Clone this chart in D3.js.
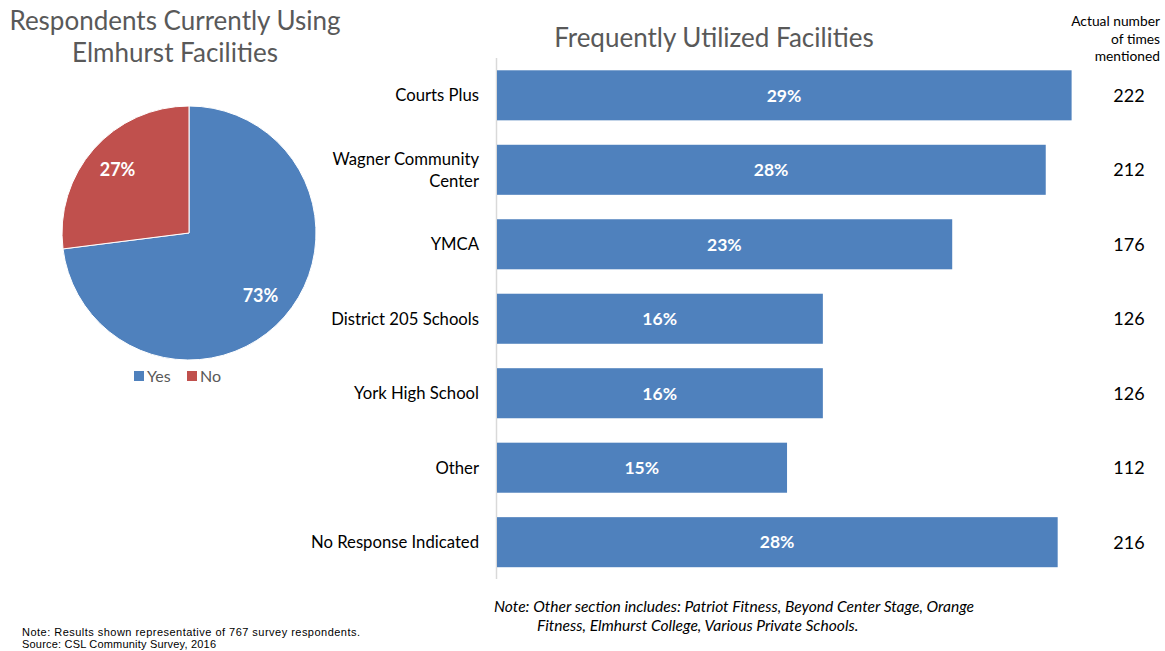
<!DOCTYPE html>
<html><head><meta charset="utf-8">
<script src="https://cdn.jsdelivr.net/npm/d3@7/dist/d3.min.js"></script>
<style>
html,body{margin:0;padding:0;background:#fff;}
svg{display:block;font-family:Lato,"Open Sans",sans-serif;}
</style></head>
<body><svg id="c" width="1165" height="651"></svg>
<script>
// Pie data
const pieCategories = ["Yes", "No"];
const pieValues = [73, 27];
const pieColors = ["#4f81bd", "#c0504d"];

// Bar data
const facilities = ["Courts Plus", "Wagner Community Center", "YMCA", "District 205 Schools", "York High School", "Other", "No Response Indicated"];
const facilityPercents = [28.9, 27.6, 22.9, 16.4, 16.4, 14.6, 28.2];
const mentionCounts = [222, 212, 176, 126, 126, 112, 216];

const svg = d3.select("#c");
const gray = "#595959";

// ---------- Left: pie ----------
svg.append("text").attr("x", 175).attr("y", 30).attr("text-anchor", "middle")
  .attr("font-size", 26).attr("fill", gray).text("Respondents Currently Using");
svg.append("text").attr("x", 175).attr("y", 62).attr("text-anchor", "middle")
  .attr("font-size", 26).attr("fill", gray).text("Elmhurst Facilities");

const pieG = svg.append("g").attr("transform", "translate(189,233)");
const pie = d3.pie().sort(null).value(d => d)(pieValues);
const r = 127;
const arc = d3.arc().innerRadius(0).outerRadius(r);
pieG.selectAll("path").data(pie).join("path")
  .attr("d", arc).attr("fill", (d, i) => pieColors[i])
  .attr("stroke", "#fff").attr("stroke-width", 1);
const labelArc = d3.arc().innerRadius(r * 0.75).outerRadius(r * 0.75);
pieG.selectAll("text.pl").data(pie).join("text").attr("class", "pl")
  .attr("transform", d => { const c = labelArc.centroid(d); return `translate(${c[0]},${c[1]})`; })
  .attr("text-anchor", "middle").attr("dy", "0.36em")
  .attr("font-size", 18).attr("font-weight", "bold").attr("fill", "#fff")
  .text(d => d.data + "%");

// legend
const legX = [134, 187];
pieCategories.forEach((c, i) => {
  svg.append("rect").attr("x", legX[i]).attr("y", 371).attr("width", 10).attr("height", 10).attr("fill", pieColors[i]);
  svg.append("text").attr("x", legX[i] + 13).attr("y", 382).attr("font-size", 16).attr("fill", gray).text(c);
});

// ---------- Right: bars ----------
svg.append("text").attr("x", 714).attr("y", 47).attr("text-anchor", "middle")
  .attr("font-size", 26).attr("fill", gray).text("Frequently Utilized Facilities");

const x = d3.scaleLinear().domain([0, 30]).range([496.5, 1093.5]);
const y = d3.scaleBand().domain(facilities).range([58, 579.5]).paddingInner(0.328).paddingOuter(0.165);

svg.append("line").attr("x1", x(0)).attr("x2", x(0)).attr("y1", 58).attr("y2", 579)
  .attr("stroke", "#d9d9d9").attr("stroke-width", 1.5);

svg.selectAll("rect.bar").data(facilities).join("rect").attr("class", "bar")
  .attr("x", x(0) + 0.5).attr("y", d => y(d))
  .attr("width", (d, i) => x(facilityPercents[i]) - x(0) - 0.5)
  .attr("height", y.bandwidth()).attr("fill", "#4f81bd");

svg.selectAll("text.bv").data(facilities).join("text").attr("class", "bv")
  .attr("x", (d, i) => (x(0) + x(facilityPercents[i])) / 2)
  .attr("y", d => y(d) + y.bandwidth() / 2).attr("dy", "0.36em")
  .attr("text-anchor", "middle").attr("font-size", 17.5).attr("font-weight", "bold").attr("fill", "#fff")
  .text((d, i) => Math.round(facilityPercents[i]) + "%");

// category labels (wrap Wagner)
const wrapMap = {"Wagner Community Center": ["Wagner Community", "Center"]};
facilities.forEach(f => {
  const lines = wrapMap[f] || [f];
  const cy = y(f) + y.bandwidth() / 2;
  const t = svg.append("text").attr("text-anchor", "end").attr("font-size", 16.7).attr("fill", "#000");
  lines.forEach((ln, j) => {
    t.append("tspan").attr("x", 479)
      .attr("y", cy + (j - (lines.length - 1) / 2) * 21.5)
      .attr("dy", "0.36em").text(ln);
  });
});

// counts column
svg.append("g").selectAll("text").data(["Actual number", "of times", "mentioned"]).join("text")
  .attr("x", 1160).attr("y", (d, i) => 26 + i * 17.5).attr("text-anchor", "end")
  .attr("font-size", 13.8).attr("fill", "#000").text(d => d);

svg.selectAll("text.cnt").data(facilities).join("text").attr("class", "cnt")
  .attr("x", 1129).attr("y", d => y(d) + y.bandwidth() / 2).attr("dy", "0.36em")
  .attr("text-anchor", "middle").attr("font-size", 18).attr("fill", "#000")
  .text((d, i) => mentionCounts[i]);

// notes
svg.append("text").attr("x", 494).attr("y", 612).attr("font-size", 15.6).attr("font-style", "italic").attr("fill", "#000")
  .text("Note: Other section includes: Patriot Fitness, Beyond Center Stage, Orange");
svg.append("text").attr("x", 537).attr("y", 631).attr("font-size", 15.6).attr("font-style", "italic").attr("fill", "#000")
  .text("Fitness, Elmhurst College, Various Private Schools.");

svg.append("text").attr("x", 22).attr("y", 636).attr("font-size", 11).attr("fill", "#000")
  .attr("font-family", "'Liberation Sans Narrow','Liberation Sans',sans-serif")
  .attr("textLength", 338).attr("lengthAdjust", "spacing")
  .text("Note:  Results shown representative  of 767  survey respondents.");
svg.append("text").attr("x", 22).attr("y", 648).attr("font-size", 11).attr("fill", "#000")
  .attr("font-family", "'Liberation Sans Narrow','Liberation Sans',sans-serif")
  .attr("textLength", 194).attr("lengthAdjust", "spacing")
  .text("Source:  CSL Community Survey, 2016");
</script></body></html>
